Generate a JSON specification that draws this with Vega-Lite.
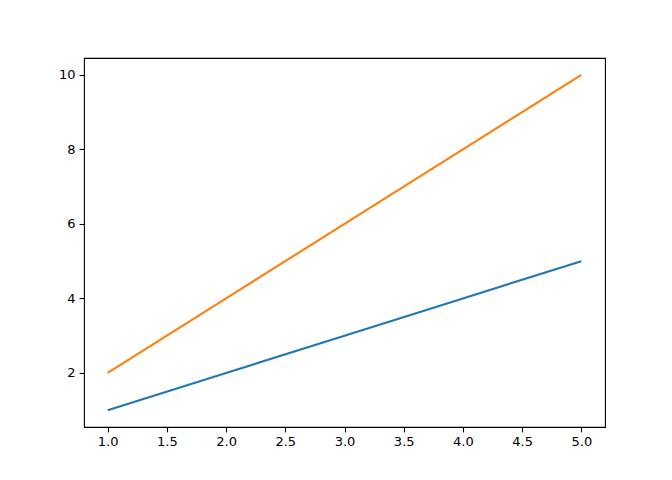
{
  "$schema": "https://vega.github.io/schema/vega-lite/v6.json",
  "width": 521,
  "height": 369,
  "autosize": {"type": "none"},
  "padding": {"left": 84, "top": 58, "right": 67, "bottom": 53},
  "background": "white",
  "config": {
    "view": {"stroke": "black", "strokeWidth": 1.1},
    "axis": {
      "grid": false,
      "domain": false,
      "tickColor": "black",
      "tickSize": 4.9,
      "tickWidth": 1.1,
      "labelColor": "black",
      "labelFont": "DejaVu Sans",
      "labelFontSize": 13,
      "labelPadding": 4,
      "title": null
    }
  },
  "data": {
    "values": [
      {"x": 1, "y": 1, "s": "a"},
      {"x": 2, "y": 2, "s": "a"},
      {"x": 3, "y": 3, "s": "a"},
      {"x": 4, "y": 4, "s": "a"},
      {"x": 5, "y": 5, "s": "a"},
      {"x": 1, "y": 2, "s": "b"},
      {"x": 2, "y": 4, "s": "b"},
      {"x": 3, "y": 6, "s": "b"},
      {"x": 4, "y": 8, "s": "b"},
      {"x": 5, "y": 10, "s": "b"}
    ]
  },
  "mark": {"type": "line", "strokeWidth": 2.1},
  "encoding": {
    "x": {
      "field": "x",
      "type": "quantitative",
      "scale": {"domain": [0.8, 5.2], "nice": false, "zero": false},
      "axis": {"values": [1, 1.5, 2, 2.5, 3, 3.5, 4, 4.5, 5], "format": ".1f", "labelFlush": false}
    },
    "y": {
      "field": "y",
      "type": "quantitative",
      "scale": {"domain": [0.55, 10.45], "nice": false, "zero": false},
      "axis": {"values": [2, 4, 6, 8, 10], "format": "d"}
    },
    "color": {
      "field": "s",
      "type": "nominal",
      "scale": {"domain": ["a", "b"], "range": ["#1f77b4", "#ff7f0e"]},
      "legend": null
    }
  }
}
